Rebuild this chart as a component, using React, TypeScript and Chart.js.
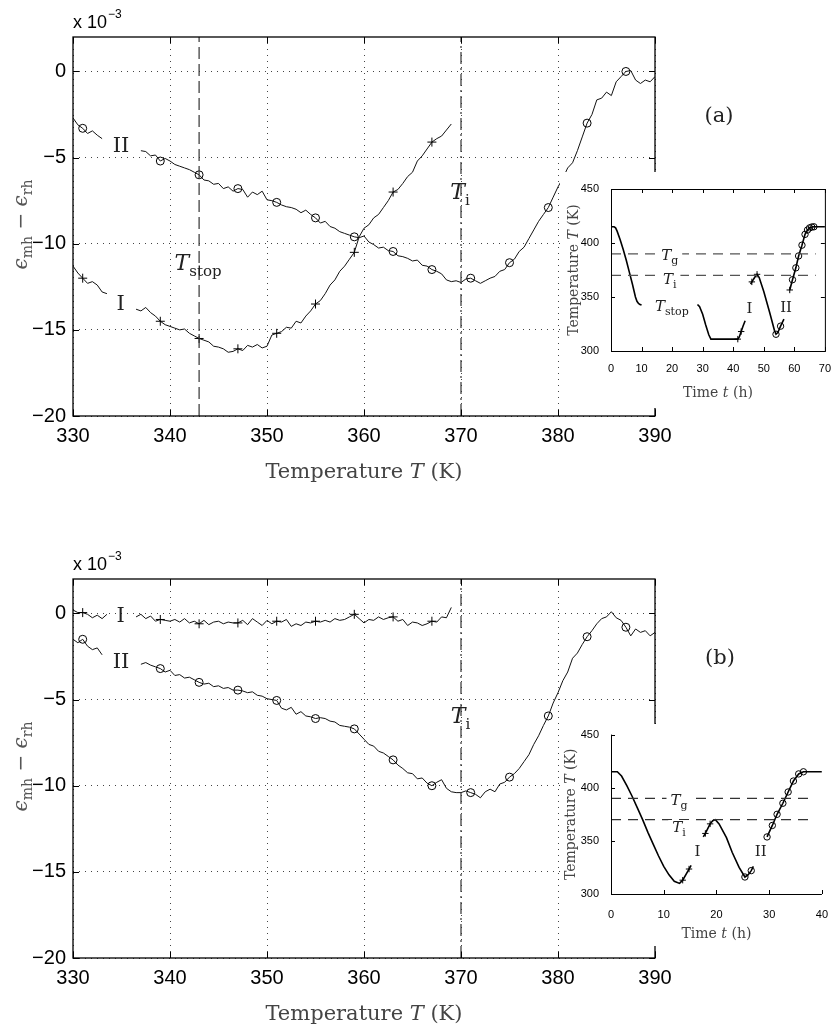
import React, { useEffect, useRef } from "react";
import { Chart, registerables } from "chart.js";

Chart.register(...registerables);

const SANS = '"Liberation Sans", Arial, Helvetica, sans-serif';
const SERIF = '"DejaVu Serif", "Liberation Serif", serif';

// ---------------- main axes ----------------
const mainXTicks = [330, 340, 350, 360, 370, 380, 390];
const mainYTicks = [-20, -15, -10, -5, 0];
const mainXMin = 330;
const mainXMax = 390;
const mainYMin = -20;
const mainYMax = 2;
const tempStep = 0.5;
const T_STOP = 343;
const T_I = 370;

const plusTemps = [331, 339, 343, 347, 351, 355, 359, 363, 367];
const circleTemps = [331, 339, 343, 347, 351, 355, 359, 363, 367, 371, 375, 379, 383, 387];

// ---------------- panel (a) ----------------
const aI1Start = 330;
const aI1 = [-11.3, -11.7, -12.0, -12.3, -12.2, -12.4, -12.8, -12.9];
const aI2Start = 336.5;
const aI2 = [
  -13.8, -13.9, -13.7, -14.0, -14.2, -14.5, -14.7, -14.8, -14.9, -15.0,
  -14.95, -15.2, -15.35, -15.5, -15.6, -15.7, -15.95, -16.0, -16.1, -16.3,
  -16.25, -16.1, -16.2, -15.9, -16.0, -15.85, -16.05, -15.95, -15.3, -15.2,
  -15.1, -14.85, -14.9, -14.5, -14.6, -14.2, -13.9, -13.5, -13.3, -12.9,
  -12.4, -12.1, -11.6, -11.3, -10.9, -10.5, -9.6, -9.1, -8.9, -8.5,
  -8.3, -7.9, -7.5, -7.0, -6.85, -6.5, -6.1, -5.85, -5.2, -4.9,
  -4.5, -4.1, -3.9, -3.75, -3.4, -3.05,
];
const aII1Start = 330;
const aII1 = [-2.7, -3.1, -3.3, -3.6, -3.45, -3.7, -3.9];
const aII2Start = 337;
const aII2 = [
  -4.6, -4.65, -4.9, -4.85, -5.2, -5.05, -5.2, -5.4, -5.5, -5.6,
  -5.7, -5.85, -6.0, -6.3, -6.35, -6.55, -6.5, -6.8, -6.7, -6.95,
  -6.8, -6.85, -7.3, -7.0, -7.15, -6.95, -7.45, -7.5, -7.6, -7.75,
  -7.85, -7.9, -8.0, -8.2, -8.05, -8.3, -8.5, -8.8, -8.7, -9.0,
  -9.1, -9.3, -9.4, -9.5, -9.6, -9.65, -9.55, -9.9, -10.05, -10.25,
  -10.2, -10.4, -10.45, -10.7, -10.75, -10.85, -11.0, -10.95, -11.25, -11.3,
  -11.5, -11.6, -11.75, -12.1, -12.2, -12.15, -12.25, -12.05, -12.0, -12.15,
  -12.3, -12.15, -12.0, -11.9, -11.6, -11.5, -11.1, -10.9, -10.45, -10.2,
  -9.7, -9.2, -8.7, -8.3, -7.9, -7.3, -6.7, -6.2, -5.6, -5.3,
  -4.6, -3.8, -3.0, -2.5, -1.65, -1.55, -1.2, -1.4, -0.6, -0.3,
  0.0, 0.05, -0.5, -0.7, -0.5, -0.6, -0.3,
];

// ---------------- panel (b) ----------------
const bI1Start = 330;
const bI1 = [0.2, 0.05, 0.05, -0.05, -0.25, -0.1, -0.3, -0.05];
const bI2Start = 336.5;
const bI2 = [
  -0.2, -0.05, -0.3, -0.15, -0.45, -0.35, -0.4, -0.45, -0.35, -0.5,
  -0.3, -0.55, -0.45, -0.6, -0.4, -0.65, -0.5, -0.45, -0.6, -0.5,
  -0.55, -0.55, -0.4, -0.65, -0.3, -0.5, -0.7, -0.4, -0.6, -0.45,
  -0.5, -0.35, -0.75, -0.6, -0.7, -0.5, -0.55, -0.45, -0.5, -0.4,
  -0.5, -0.3, -0.4, -0.35, -0.2, -0.05, -0.3, -0.55, -0.35, -0.4,
  -0.2, -0.35, -0.25, -0.2, -0.45, -0.35, -0.7, -0.5, -0.55, -0.7,
  -0.6, -0.45, -0.5, -0.2, -0.25, 0.35,
];
const bII1Start = 330;
const bII1 = [-1.5, -1.7, -1.5, -1.9, -2.1, -2.0, -2.4];
const bII2Start = 337;
const bII2 = [
  -2.95, -2.85, -3.0, -3.1, -3.2, -3.4, -3.3, -3.6, -3.55, -3.75,
  -3.7, -3.85, -4.0, -4.1, -4.05, -4.25, -4.2, -4.35, -4.3, -4.45,
  -4.45, -4.5, -4.6, -4.55, -4.75, -4.8, -4.95, -5.0, -5.05, -5.5,
  -5.6, -5.45, -5.85, -5.7, -5.95, -6.0, -6.1, -6.05, -6.1, -6.25,
  -6.3, -6.5, -6.55, -6.6, -6.7, -7.0, -7.3, -7.6, -7.7, -8.0,
  -8.1, -8.3, -8.5, -8.8, -9.0, -9.25, -9.3, -9.6, -9.55, -9.85,
  -10.0, -9.8, -9.65, -10.15, -10.35, -10.4, -10.4, -10.3, -10.4, -10.5,
  -10.7, -10.35, -10.2, -10.35, -9.9, -9.8, -9.5, -9.3, -9.0, -8.6,
  -8.2, -7.6, -7.1, -6.5, -5.95, -5.2, -4.6, -3.9, -3.4, -2.6,
  -2.3, -1.8, -1.35, -1.0, -0.6, -0.3, -0.2, 0.1, -0.25, -0.4,
  -0.8, -1.3, -0.9, -1.1, -1.0, -1.3, -1.1,
];

// ---------------- insets ----------------
const insetYTicks = [300, 350, 400, 450];
const insetYMin = 300;
const insetYMax = 450;
const T_G = 390;

const insetAXTicks = [0, 10, 20, 30, 40, 50, 60, 70];
const insetAXMax = 70;
const insetATimes1 = [0, 1, 1.5, 2, 3, 4, 5, 6, 7, 7.5, 8, 8.5, 9, 9.5, 10];
const insetATemps1 = [415, 415, 414, 411, 403, 394, 384, 373, 362, 356, 350, 346, 344, 343, 342.5];
const insetATimes2 = [28.3, 29, 30, 31, 32, 32.7, 34, 36, 38, 40, 41.5, 42, 42.6, 43.2, 43.9];
const insetATemps2 = [343, 341, 334, 324, 315, 311, 311, 311, 311, 311, 311, 313, 318, 323, 328];
const insetATimes3 = [45.7, 46.1, 47, 47.8, 48.5, 50, 52, 53.5, 54, 54.6, 55.5, 56.6];
const insetATemps3 = [362, 364, 368, 371, 368, 355, 335, 319, 315.5, 317, 323, 329.5];
const insetATimes4 = [58.5, 59.4, 60.5, 61.4, 62.5, 63.5, 64.3, 65, 65.7, 66.4, 67, 70];
const insetATemps4 = [356.5, 366, 377, 388, 398, 408, 412, 414, 414.8, 415, 415, 415];
const insetAPlus = [41.5, 42.6, 46.1, 47.8, 58.5];
const insetACircle = [54, 55.5, 59.4, 60.5, 61.4, 62.5, 63.5, 64.3, 65, 65.7, 66.4];
const insetALineEnd = 67;

const insetBXTicks = [0, 10, 20, 30, 40];
const insetBXMax = 40;
const insetBTimes1 = [0, 1.2, 2, 3, 4, 5, 6, 7, 8, 9, 10, 11, 12, 13, 13.6, 14.8, 15.2];
const insetBTemps1 = [415, 415, 411, 402, 392, 381, 370, 358, 347, 336, 326, 318, 312, 310, 313, 323.5, 327];
const insetBTimes2 = [17.5, 17.9, 18.8, 19.3, 19.8, 20.5, 21.9, 23, 24.3, 25.4, 26, 26.6, 27];
const insetBTemps2 = [353.7, 357, 366, 369, 370, 366, 353, 339, 325, 316, 318, 322, 326];
const insetBTimes3 = [29.6, 30.6, 31.5, 32.6, 33.6, 34.6, 35.6, 36.5, 37, 40];
const insetBTemps3 = [353.7, 364.5, 375, 385.4, 396, 406.3, 413, 415, 415, 415];
const insetBPlus = [13.6, 14.8, 17.9, 18.8];
const insetBCircle = [25.4, 26.6, 29.6, 30.6, 31.5, 32.6, 33.6, 34.6, 35.6, 36.5];
const insetBLineEnd = 38;

// ---------------- helpers ----------------
type Part = { text: string; font: string; dy?: number };
const it = (s: number) => `italic ${s}px ${SERIF}`;
const rm = (s: number) => `${s}px ${SERIF}`;
const sym = (main: string, sub: string, size: number): Part[] => [
  { text: main, font: it(size) },
  { text: sub, font: rm(Math.round(size * 0.7)), dy: size * 0.28 },
];
const roman = (s: string, size: number): Part[] => [{ text: s, font: rm(size) }];

function measureParts(ctx: CanvasRenderingContext2D, parts: Part[]) {
  return parts.map((p) => {
    ctx.font = p.font;
    return ctx.measureText(p.text).width;
  });
}

function drawParts(ctx: CanvasRenderingContext2D, parts: Part[], cx: number, baseline: number, bg = false, pad = 3, asc = 14) {
  const ws = measureParts(ctx, parts);
  const total = ws.reduce((a, b) => a + b, 0);
  let x = cx - total / 2;
  if (bg) {
    ctx.save();
    ctx.fillStyle = "#fff";
    ctx.fillRect(x - pad, baseline - asc, total + 2 * pad, asc + 8);
    ctx.restore();
  }
  ctx.textAlign = "left";
  ctx.textBaseline = "alphabetic";
  parts.forEach((p, i) => {
    ctx.font = p.font;
    ctx.fillText(p.text, x, baseline + (p.dy || 0));
    x += ws[i];
  });
  return total;
}

function segPoints(start: number, vals: number[]) {
  return vals.map((v, k) => ({ x: start + k * tempStep, y: v }));
}
function zipPoints(ts: number[], vs: number[]) {
  return ts.map((t, k) => ({ x: t, y: vs[k] }));
}
function joinSegs(...segs: { x: number; y: number | null }[][]) {
  const out: { x: number; y: number | null }[] = [];
  segs.forEach((s, i) => {
    if (i > 0) out.push({ x: (out[out.length - 1].x + s[0].x) / 2, y: null });
    out.push(...s);
  });
  return out;
}
const fmtMinus = (v: any) => String(v).replace("-", "\u2212");
function line(ctx: CanvasRenderingContext2D, x1: number, y1: number, x2: number, y2: number) {
  ctx.beginPath();
  ctx.moveTo(x1, y1);
  ctx.lineTo(x2, y2);
  ctx.stroke();
}

// ---------------- main panel config ----------------
type Lab = { x: number; y: number; parts: Part[] };
type PanelSpec = {
  H: number;
  areaTop: number;
  areaBottom: number;
  I: { x: number; y: number | null }[];
  II: { x: number; y: number | null }[];
  showStop: boolean;
  labels: Lab[];
  tag: string;
  tagX: number;
  tagY: number;
};

function mainConfig(p: PanelSpec): any {
  const decor = {
    id: "mainDecor",
    afterDraw(chart: any) {
      const { ctx, chartArea: a, scales } = chart;
      const xs = scales.x;
      const ys = scales.y;
      ctx.save();
      ctx.setLineDash([]);
      ctx.strokeStyle = "#000";
      ctx.lineWidth = 1.3;
      ctx.strokeRect(a.left, a.top, a.right - a.left, a.bottom - a.top);
      ctx.lineWidth = 1;
      mainXTicks.forEach((v) => {
        const px = Math.round(xs.getPixelForValue(v)) + 0.5;
        line(ctx, px, a.bottom, px, a.bottom - 6);
        line(ctx, px, a.top, px, a.top + 6);
      });
      mainYTicks.forEach((v) => {
        const py = Math.round(ys.getPixelForValue(v)) + 0.5;
        line(ctx, a.left, py, a.left + 6, py);
        line(ctx, a.right, py, a.right - 6, py);
      });
      // labels
      ctx.fillStyle = "#222";
      p.labels.forEach((l) => {
        const size = parseInt(l.parts[0].font.match(/(\d+)px/)![1], 10);
        drawParts(ctx, l.parts, xs.getPixelForValue(l.x), ys.getPixelForValue(l.y) + size * 0.36);
      });
      // exponent
      ctx.fillStyle = "#000";
      ctx.font = `18px ${SANS}`;
      ctx.textAlign = "left";
      ctx.textBaseline = "alphabetic";
      ctx.fillText("x 10", a.left, a.top - 9);
      const w = ctx.measureText("x 10").width;
      ctx.font = `12px ${SANS}`;
      ctx.fillText("\u22123", a.left + w + 1, a.top - 19);
      // x title
      ctx.fillStyle = "#444";
      drawParts(
        ctx,
        [
          { text: "Temperature ", font: rm(21) },
          { text: "T", font: it(21) },
          { text: " (K)", font: rm(21) },
        ],
        (a.left + a.right) / 2,
        a.bottom + 62
      );
      // y title
      ctx.save();
      ctx.fillStyle = "#555";
      ctx.translate(22, (a.top + a.bottom) / 2 - 2);
      ctx.rotate(-Math.PI / 2);
      drawParts(
        ctx,
        [
          { text: "\u03F5", font: it(20) },
          { text: "mh", font: rm(14), dy: 5 },
          { text: " \u2212 ", font: rm(20) },
          { text: "\u03F5", font: it(20) },
          { text: "rh", font: rm(14), dy: 5 },
        ],
        0,
        5
      );
      ctx.restore();
      // tag
      ctx.fillStyle = "#222";
      drawParts(ctx, roman(p.tag, 21), p.tagX, p.tagY + 7);
      ctx.restore();
    },
  };

  const datasets: any[] = [];
  if (p.showStop) {
    datasets.push({
      data: [
        { x: T_STOP, y: mainYMin },
        { x: T_STOP, y: mainYMax },
      ],
      borderColor: "#333",
      borderWidth: 1.2,
      borderDash: [12, 5],
      pointRadius: 0,
    });
  }
  datasets.push({
    data: [
      { x: T_I, y: mainYMin },
      { x: T_I, y: mainYMax },
    ],
    borderColor: "#333",
    borderWidth: 1.2,
    borderDash: [12, 4, 2, 4],
    pointRadius: 0,
  });
  datasets.push({
    data: p.I,
    borderColor: "#111",
    borderWidth: 1,
    spanGaps: false,
    pointStyle: "cross",
    pointRadius: (c: any) => (c.raw && plusTemps.includes(c.raw.x) ? 4.5 : 0),
    pointBorderColor: "#000",
    pointBorderWidth: 1,
  });
  datasets.push({
    data: p.II,
    borderColor: "#111",
    borderWidth: 1,
    spanGaps: false,
    pointStyle: "circle",
    pointRadius: (c: any) => (c.raw && circleTemps.includes(c.raw.x) ? 4 : 0),
    pointBorderColor: "#000",
    pointBackgroundColor: "rgba(0,0,0,0)",
    pointBorderWidth: 1,
  });

  return {
    type: "line",
    data: { datasets },
    options: {
      responsive: false,
      animation: false,
      events: [],
      layout: { padding: { top: p.areaTop, left: 0, right: 834 - 655, bottom: 0 } },
      plugins: { legend: { display: false }, tooltip: { enabled: false } },
      elements: { line: { tension: 0 } },
      scales: {
        x: {
          type: "linear",
          min: mainXMin,
          max: mainXMax,
          afterBuildTicks: (s: any) => {
            s.ticks = mainXTicks.map((v) => ({ value: v }));
          },
          afterFit: (s: any) => {
            s.height = p.H - p.areaBottom;
          },
          grid: { color: "#444", lineWidth: 1, drawTicks: false },
          border: { display: false, dash: [1, 5] },
          ticks: { font: { family: SANS, size: 20 }, color: "#000", padding: 8, maxRotation: 0, autoSkip: false },
        },
        y: {
          type: "linear",
          min: mainYMin,
          max: mainYMax,
          afterBuildTicks: (s: any) => {
            s.ticks = mainYTicks.map((v) => ({ value: v }));
          },
          afterFit: (s: any) => {
            s.width = 73;
          },
          grid: { color: "#444", lineWidth: 1, drawTicks: false },
          border: { display: false, dash: [1, 5] },
          ticks: { font: { family: SANS, size: 20 }, color: "#000", padding: 7, callback: fmtMinus },
        },
      },
    },
    plugins: [decor],
  };
}

// ---------------- inset config ----------------
type InsetSpec = {
  H: number;
  W: number;
  areaTop: number;
  areaBottom: number;
  yWidth: number;
  padRight: number;
  xTicks: number[];
  xMax: number;
  segs: { x: number; y: number }[][];
  plus: number[];
  circle: number[];
  lineEnd: number;
  fullBox: boolean;
  labels: { t: number; T: number; parts: Part[]; bg: boolean }[];
  xTitleY: number;
  yTitleX: number;
  xPad: number;
  dashColor: string;
};

function insetConfig(p: InsetSpec): any {
  const decor = {
    id: "insetDecor",
    afterDraw(chart: any) {
      const { ctx, chartArea: a, scales } = chart;
      const xs = scales.x;
      const ys = scales.y;
      ctx.save();
      ctx.setLineDash([]);
      ctx.strokeStyle = "#000";
      ctx.lineWidth = 1;
      if (p.fullBox) {
        ctx.strokeRect(a.left + 0.5, a.top + 0.5, a.right - a.left, a.bottom - a.top);
      } else {
        line(ctx, a.left + 0.5, a.top, a.left + 0.5, a.bottom + 0.5);
        line(ctx, a.left, a.bottom + 0.5, a.right, a.bottom + 0.5);
      }
      p.xTicks.forEach((v) => {
        const px = Math.round(xs.getPixelForValue(v)) + 0.5;
        line(ctx, px, a.bottom, px, a.bottom - 4);
        if (p.fullBox) line(ctx, px, a.top, px, a.top + 4);
      });
      insetYTicks.forEach((v) => {
        const py = Math.round(ys.getPixelForValue(v)) + 0.5;
        line(ctx, a.left, py, a.left + 4, py);
        if (p.fullBox) line(ctx, a.right, py, a.right - 4, py);
      });
      ctx.fillStyle = "#222";
      p.labels.forEach((l) => {
        drawParts(ctx, l.parts, xs.getPixelForValue(l.t), ys.getPixelForValue(l.T) + 5, l.bg, 4, 12);
      });
      ctx.fillStyle = "#444";
      drawParts(
        ctx,
        [
          { text: "Time ", font: rm(14) },
          { text: "t", font: it(14) },
          { text: " (h)", font: rm(14) },
        ],
        (a.left + a.right) / 2,
        p.xTitleY + 5
      );
      ctx.save();
      ctx.translate(p.yTitleX, (a.top + a.bottom) / 2);
      ctx.rotate(-Math.PI / 2);
      drawParts(
        ctx,
        [
          { text: "Temperature ", font: rm(14) },
          { text: "T", font: it(14) },
          { text: " (K)", font: rm(14) },
        ],
        0,
        5
      );
      ctx.restore();
      ctx.restore();
    },
  };

  const datasets: any[] = [
    {
      data: [
        { x: 0, y: T_G },
        { x: p.lineEnd, y: T_G },
      ],
      borderColor: p.dashColor,
      borderWidth: 1.3,
      borderDash: [10, 7],
      pointRadius: 0,
    },
    {
      data: [
        { x: 0, y: T_I },
        { x: p.lineEnd, y: T_I },
      ],
      borderColor: p.dashColor,
      borderWidth: 1.3,
      borderDash: [10, 7],
      pointRadius: 0,
    },
  ];
  p.segs.forEach((s) => {
    datasets.push({
      data: s,
      borderColor: "#000",
      borderWidth: 1.6,
      pointStyle: (c: any) => (c.raw && p.circle.includes(c.raw.x) ? "circle" : "cross"),
      pointRadius: (c: any) => (c.raw && (p.circle.includes(c.raw.x) || p.plus.includes(c.raw.x)) ? 3.2 : 0),
      pointBorderColor: "#000",
      pointBackgroundColor: "rgba(0,0,0,0)",
      pointBorderWidth: 1,
    });
  });

  return {
    type: "line",
    data: { datasets },
    options: {
      responsive: false,
      animation: false,
      events: [],
      layout: { padding: { top: p.areaTop, left: 0, right: p.padRight, bottom: 0 } },
      plugins: { legend: { display: false }, tooltip: { enabled: false } },
      elements: { line: { tension: 0 } },
      scales: {
        x: {
          type: "linear",
          min: 0,
          max: p.xMax,
          afterBuildTicks: (s: any) => {
            s.ticks = p.xTicks.map((v) => ({ value: v }));
          },
          afterFit: (s: any) => {
            s.height = p.H - p.areaBottom;
          },
          grid: { display: false },
          border: { display: false },
          ticks: { font: { family: SANS, size: 11 }, color: "#000", padding: p.xPad, maxRotation: 0, autoSkip: false },
        },
        y: {
          type: "linear",
          min: insetYMin,
          max: insetYMax,
          afterBuildTicks: (s: any) => {
            s.ticks = insetYTicks.map((v) => ({ value: v }));
          },
          afterFit: (s: any) => {
            s.width = p.yWidth;
          },
          grid: { display: false },
          border: { display: false },
          ticks: { font: { family: SANS, size: 11 }, color: "#000", padding: 4 },
        },
      },
    },
    plugins: [decor],
  };
}

// ---------------- components ----------------
function ChartCanvas(props: { left: number; top: number; width: number; height: number; make: () => any; bg?: string }) {
  const ref = useRef<HTMLCanvasElement>(null);
  useEffect(() => {
    const chart = new Chart(ref.current as HTMLCanvasElement, props.make());
    return () => chart.destroy();
  }, []);
  return (
    <canvas
      ref={ref}
      width={props.width}
      height={props.height}
      style={{
        position: "absolute",
        left: props.left,
        top: props.top,
        width: props.width,
        height: props.height,
        background: props.bg || "transparent",
      }}
    />
  );
}

const panelA: PanelSpec = {
  H: 514,
  areaTop: 37,
  areaBottom: 416,
  I: joinSegs(segPoints(aI1Start, aI1), segPoints(aI2Start, aI2)),
  II: joinSegs(segPoints(aII1Start, aII1), segPoints(aII2Start, aII2)),
  showStop: true,
  labels: [
    { x: 334.95, y: -4.24, parts: roman("II", 21) },
    { x: 334.9, y: -13.4, parts: roman("I", 21) },
    { x: 342.9, y: -11.06, parts: sym("T", "stop", 22) },
    { x: 369.9, y: -6.95, parts: sym("T", "i", 22) },
  ],
  tag: "(a)",
  tagX: 719,
  tagY: 115,
};

const panelB: PanelSpec = {
  H: 514,
  areaTop: 65,
  areaBottom: 444,
  I: joinSegs(segPoints(bI1Start, bI1), segPoints(bI2Start, bI2)),
  II: joinSegs(segPoints(bII1Start, bII1), segPoints(bII2Start, bII2)),
  showStop: false,
  labels: [
    { x: 334.9, y: -0.03, parts: roman("I", 21) },
    { x: 334.95, y: -2.75, parts: roman("II", 21) },
    { x: 369.95, y: -5.89, parts: sym("T", "i", 22) },
  ],
  tag: "(b)",
  tagX: 720,
  tagY: 143,
};

const insetA: InsetSpec = {
  H: 236,
  W: 274,
  areaTop: 17,
  areaBottom: 179,
  yWidth: 51,
  padRight: 8,
  xTicks: insetAXTicks,
  xMax: insetAXMax,
  segs: [
    zipPoints(insetATimes1, insetATemps1),
    zipPoints(insetATimes2, insetATemps2),
    zipPoints(insetATimes3, insetATemps3),
    zipPoints(insetATimes4, insetATemps4),
  ],
  plus: insetAPlus,
  circle: insetACircle,
  lineEnd: insetALineEnd,
  fullBox: true,
  labels: [
    { t: 19.2, T: 388.9, parts: sym("T", "g", 15), bg: true },
    { t: 19.2, T: 366.7, parts: sym("T", "i", 15), bg: true },
    { t: 19.9, T: 341.7, parts: sym("T", "stop", 15), bg: false },
    { t: 45.3, T: 339.8, parts: roman("I", 15), bg: false },
    { t: 57.3, T: 340.7, parts: roman("II", 15), bg: false },
  ],
  xTitleY: 220,
  yTitleX: 13,
  xPad: 3,
  dashColor: "#555",
};

const insetB: InsetSpec = {
  H: 222,
  W: 274,
  areaTop: 8,
  areaBottom: 170,
  yWidth: 51,
  padRight: 6,
  xTicks: insetBXTicks,
  xMax: insetBXMax,
  segs: [
    zipPoints(insetBTimes1, insetBTemps1),
    zipPoints(insetBTimes2, insetBTemps2),
    zipPoints(insetBTimes3, insetBTemps3),
  ],
  plus: insetBPlus,
  circle: insetBCircle,
  lineEnd: insetBLineEnd,
  fullBox: false,
  labels: [
    { t: 12.9, T: 388.9, parts: sym("T", "g", 15), bg: true },
    { t: 12.9, T: 363, parts: sym("T", "i", 15), bg: true },
    { t: 16.4, T: 340.7, parts: roman("I", 15), bg: false },
    { t: 28.4, T: 340.7, parts: roman("II", 15), bg: false },
  ],
  xTitleY: 209,
  yTitleX: 10,
  xPad: 6,
  dashColor: "#333",
};

export default function App() {
  useEffect(() => {
    document.body.style.margin = "0";
  }, []);
  return (
    <div style={{ position: "relative", width: 834, height: 1028, background: "#fff", overflow: "hidden" }}>
      <style>{`body{margin:0}`}</style>
      <ChartCanvas left={0} top={0} width={834} height={514} make={() => mainConfig(panelA)} />
      <ChartCanvas left={0} top={514} width={834} height={514} make={() => mainConfig(panelB)} />
      <ChartCanvas left={560} top={172} width={274} height={236} make={() => insetConfig(insetA)} bg="#fff" />
      <ChartCanvas left={560} top={724} width={274} height={222} make={() => insetConfig(insetB)} bg="#fff" />
    </div>
  );
}
